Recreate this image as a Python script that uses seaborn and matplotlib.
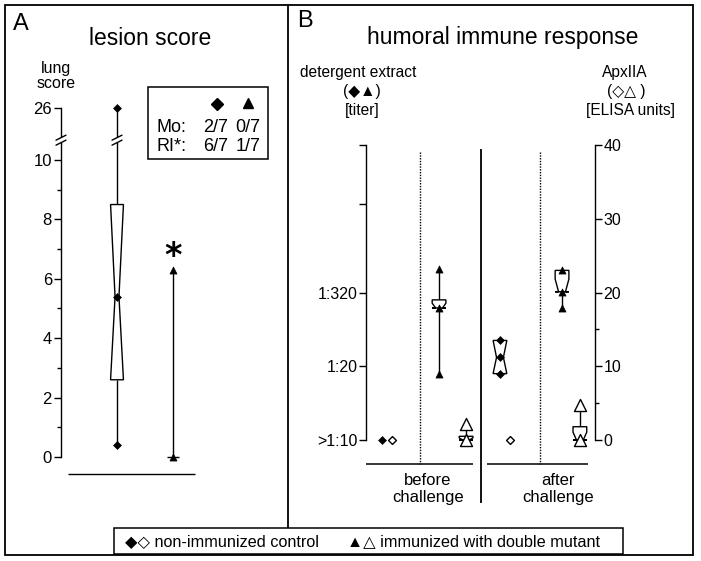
import numpy as np
import pandas as pd
import matplotlib
matplotlib.use("Agg")
import matplotlib.pyplot as plt
from matplotlib.patches import Polygon, Rectangle
import seaborn as sns

sns.set_style("white")
plt.rcParams["font.family"] = ["Liberation Sans", "DejaVu Sans"]
plt.rcParams.update({"text.color": "black", "axes.edgecolor": "black",
                     "xtick.color": "black", "ytick.color": "black",
                     "axes.linewidth": 1.0})

# ---------------- data ----------------
# Panel A: lesion score (lung score), n = 7 animals per group
lesion_groups = ["non-immunized control", "immunized with double mutant"]
lesion_shapes = ["D", "^"]
lesion_min = [0.4, 0.0]
lesion_q1 = [2.6, 0.0]
lesion_median = [5.4, 0.0]
lesion_q3 = [8.5, 0.0]
lesion_max = [26.0, 6.3]
lesion_ticks = [0, 2, 4, 6, 8, 10, 26]
lesion_minor_ticks = [1, 3, 5, 7, 9]
n_animals = 7

table_rows = ["Mo:", "RI*:"]
table_control = ["2/7", "6/7"]
table_immunized = ["0/7", "1/7"]

# Panel B: humoral immune response
b_condition = ["before"] * 4 + ["after"] * 4
b_group = ["control", "control", "immunized", "immunized"] * 2
b_assay = ["detergent", "ApxIIA"] * 4
b_min    = [0.0, 0.0,  9.0, 0.0,  9.0, 0.0, 17.9, 0.0]
b_q1     = [0.0, 0.0, 17.9, 0.0,  9.0, 0.0, 20.1, 0.0]
b_median = [0.0, 0.0, 17.9, 0.0, 11.2, 0.0, 20.1, 0.0]
b_q3     = [0.0, 0.0, 19.0, 0.5, 13.5, 0.0, 23.0, 1.8]
b_max    = [0.0, 0.0, 23.2, 2.2, 13.5, 0.0, 23.0, 4.8]
titer_ticks = [0, 10, 20, 32, 40]
titer_labels = [">1:10", "1:20", "1:320", "", ""]
elisa_ticks = [0, 10, 20, 30, 40]
elisa_minor_ticks = [5, 15]
condition_labels = ["before\nchallenge", "after\nchallenge"]
legend_labels = ["◆◇ non-immunized control", "▲△ immunized with double mutant"]

# ---------------- layout ----------------
W, H = 701, 561
fig = plt.figure(figsize=(W / 100, H / 100), dpi=100)


def add_ax(x0, y0, x1, y1, **kw):
    return fig.add_axes([x0 / W, 1 - y1 / H, (x1 - x0) / W, (y1 - y0) / H], **kw)


def notched(ax, x, q1, med, q3, bw, nw, n):
    notch = 1.57 * (q3 - q1) / np.sqrt(n)
    lo = max(med - notch, q1)
    hi = min(med + notch, q3)
    L, R, l, r = x - bw / 2, x + bw / 2, x - nw / 2, x + nw / 2
    verts = [(L, q1), (L, lo), (l, med), (L, hi), (L, q3),
             (R, q3), (R, hi), (r, med), (R, lo), (R, q1)]
    ax.add_patch(Polygon(verts, closed=True, fc="white", ec="black", lw=1.0, zorder=3))


def draw_series(ax, x, mn, q1, med, q3, mx, bw, nw):
    if q1 > mn:
        ax.vlines(x, mn, q1, color="black", lw=1.0, zorder=2)
    if mx > q3:
        ax.vlines(x, q3, mx, color="black", lw=1.0, zorder=2)
    if q3 > q1:
        notched(ax, x, q1, med, q3, bw, nw, n_animals)
    elif mx > mn:
        ax.hlines(med, x - bw / 2, x + bw / 2, color="black", lw=1.0, zorder=3)


marker_sizes = {("D", True): 16, ("D", False): 16, ("^", True): 26, ("^", False): 75}


def draw_markers(ax, df):
    for (shape, filled), sub in df.groupby(["shape", "filled"]):
        sns.scatterplot(data=sub, x="x", y="y", marker=shape, s=marker_sizes[(shape, filled)],
                        color="black", facecolor="black" if filled else "white",
                        edgecolor="black", linewidth=1.0 if not filled else 0.5,
                        ax=ax, legend=False, zorder=5, clip_on=False)


# ---------------- Panel A ----------------
k_break = 1.75 / 16.0


def fwd(v):
    v = np.asarray(v, dtype=float)
    return np.where(v <= 10, v, 10 + (v - 10) * k_break)


def inv(u):
    u = np.asarray(u, dtype=float)
    return np.where(u <= 10, u, 10 + (u - 10) / k_break)


axA = add_ax(61, 95, 261, 480)
axA.patch.set_alpha(0)
axA.set_yscale("function", functions=(fwd, inv))
axA.set_ylim(-0.774, 30.0)
axA.set_xlim(-1.0, 2.571)

rowsA = []
for i in range(len(lesion_groups)):
    draw_series(axA, i, lesion_min[i], lesion_q1[i], lesion_median[i], lesion_q3[i],
                lesion_max[i], 0.23, 0.07)
    for v in sorted(set([lesion_min[i], lesion_median[i], lesion_max[i]])):
        rowsA.append({"x": i, "y": v, "shape": lesion_shapes[i], "filled": True})
draw_markers(axA, pd.DataFrame(rowsA))
axA.text(1, 6.75, "*", ha="center", va="center", fontsize=24, fontweight="bold",
         family="DejaVu Sans")
axA.hlines(-0.57, -0.875, 1.39, color="black", lw=1.0, clip_on=False)

for s in ["top", "right", "bottom"]:
    axA.spines[s].set_visible(False)
axA.spines["left"].set_bounds(0, 26)
axA.set_xticks([])
axA.set_yticks(lesion_ticks)
axA.set_yticklabels([str(t) for t in lesion_ticks])
axA.set_yticks(lesion_minor_ticks, minor=True)
axA.tick_params(axis="y", which="major", left=True, direction="out", length=5, width=1,
                pad=1.5, labelsize=12)
axA.tick_params(axis="y", which="minor", left=True, direction="out", length=3, width=1)
axA.set_ylabel("")
axA.set_xlabel("")

# ---------------- Panel B ----------------
b_slot_x = [0.70, 1.14, 3.19, 4.37, 5.85, 6.29, 8.56, 9.34]
axB = add_ax(366, 140, 595, 470)
axB.patch.set_alpha(0)
axB.set_xlim(0, 10)
axB.set_ylim(-4.07, 40.68)
rowsB = []
for i in range(len(b_min)):
    draw_series(axB, b_slot_x[i], b_min[i], b_q1[i], b_median[i], b_q3[i], b_max[i], 0.6, 0.3)
    shape = "D" if b_group[i] == "control" else "^"
    filled = b_assay[i] == "detergent"
    for v in sorted(set([b_min[i], b_median[i], b_max[i]])):
        rowsB.append({"x": b_slot_x[i], "y": v, "shape": shape, "filled": filled})
draw_markers(axB, pd.DataFrame(rowsB))

for s in ["top", "right", "bottom"]:
    axB.spines[s].set_visible(False)
axB.spines["left"].set_bounds(0, 40)
axB.set_xticks([])
axB.set_yticks(titer_ticks)
axB.set_yticklabels(titer_labels)
axB.tick_params(axis="y", left=True, direction="out", length=5, width=1, pad=1,
                labelsize=11.5)
axB.set_ylabel("")
axB.set_xlabel("")

axB2 = axB.twinx()
axB2.patch.set_alpha(0)
axB2.set_ylim(axB.get_ylim())
for s in ["top", "left", "bottom"]:
    axB2.spines[s].set_visible(False)
axB2.spines["right"].set_bounds(0, 40)
axB2.set_yticks(elisa_ticks)
axB2.set_yticklabels([str(t) for t in elisa_ticks])
axB2.set_yticks(elisa_minor_ticks, minor=True)
axB2.tick_params(axis="y", which="major", right=True, labelright=True, direction="out",
                 length=5, width=1, pad=1, labelsize=11.5)
axB2.tick_params(axis="y", which="minor", right=True, direction="out", length=3, width=1)

# ---------------- overlay (frames, titles, notes) ----------------
ov = fig.add_axes([0, 0, 1, 1], zorder=10)
ov.set_xlim(0, W)
ov.set_ylim(H, 0)
ov.axis("off")


def line(x0, y0, x1, y1, **kw):
    kw.setdefault("color", "black")
    kw.setdefault("lw", 1.1)
    ov.plot([x0, x1], [y0, y1], solid_capstyle="butt", **kw)


def to_ov(ax, x, y):
    X, Y = ax.transData.transform((x, float(y)))
    return X, H - Y


# outer frame + panel divider
ov.add_patch(Rectangle((5, 5), 688, 550, fill=False, ec="black", lw=1.3))
line(288, 5, 288, 528, lw=1.3)

# break marks (axis and whisker in panel A)
for xd in [-1.0, 0]:
    bx, by = to_ov(axA, xd, 16.1)
    ov.add_patch(Rectangle((bx - 2, by - 2.5), 4, 5, fc="white", ec="none", zorder=3))
    for d in (-2.5, 2.5):
        ov.plot([bx - 5, bx + 5], [by + d + 2.5, by + d - 2.5], color="black", lw=1.0, zorder=4)

# panel B structure: dotted separators, solid divider, baselines
for xd in [2.36, 7.60]:
    x0, y0 = to_ov(axB, xd, 39.1)
    x1, y1 = to_ov(axB, xd, -3.25)
    ov.plot([x0, x1], [y0, y1], color="black", lw=1.0, ls=(0, (1, 1)))
xd0, yd0 = to_ov(axB, 5.02, 39.5)
line(xd0, yd0, xd0, 503, lw=1.3)
for a, b in [(0, 4.67), (5.28, 9.69)]:
    xa, ya = to_ov(axB, a, -3.25)
    xb, yb = to_ov(axB, b, -3.25)
    line(xa, ya, xb, yb)
for xd, lab in zip([2.71, 8.38], condition_labels):
    cx, _ = to_ov(axB, xd, 0)
    ov.text(cx, 489, lab, ha="center", va="center", fontsize=12, linespacing=1.1)

# titles
ov.text(13, 24, "A", ha="left", va="center", fontsize=17)
ov.text(150, 38, "lesion score", ha="center", va="center", fontsize=16.5)
ov.text(56, 68, "lung", ha="center", va="center", fontsize=11.5)
ov.text(56, 83, "score", ha="center", va="center", fontsize=11.5)
ov.text(297, 21, "B", ha="left", va="center", fontsize=17)
ov.text(503, 37, "humoral immune response", ha="center", va="center", fontsize=16.5)
ov.text(358, 72, "detergent extract", ha="center", va="center", fontsize=11.2)
ov.text(362, 91, "(◆▲)", ha="center", va="center", fontsize=11.2)
ov.text(362, 110, "[titer]", ha="center", va="center", fontsize=11.2)
ov.text(625, 72, "ApxIIA", ha="center", va="center", fontsize=11.2)
ov.text(626, 91, "(◇△ )", ha="center", va="center", fontsize=11.2)
ov.text(630, 110, "[ELISA units]", ha="center", va="center", fontsize=11.2)

# inset table in panel A
ov.add_patch(Rectangle((148, 87), 120, 72, fill=False, ec="black", lw=1.1))
ov.plot([217], [104], marker="D", ms=6.5, color="black")
ov.plot([248], [103], marker="^", ms=7.5, color="black")
for j, (rname, c, m) in enumerate(zip(table_rows, table_control, table_immunized)):
    yy = 127 + j * 19.5
    ov.text(157, yy, rname, ha="left", va="center", fontsize=13)
    ov.text(216, yy, c, ha="center", va="center", fontsize=13)
    ov.text(248, yy, m, ha="center", va="center", fontsize=13)

# legend box
ov.add_patch(Rectangle((114, 528), 509, 26, fc="white", ec="black", lw=1.1, zorder=2))
ov.text(125, 541.5, legend_labels[0], ha="left", va="center", fontsize=11.7, zorder=3)
ov.text(347, 541.5, legend_labels[1], ha="left", va="center", fontsize=11.7, zorder=3)

fig.savefig("out.png", dpi=100)
